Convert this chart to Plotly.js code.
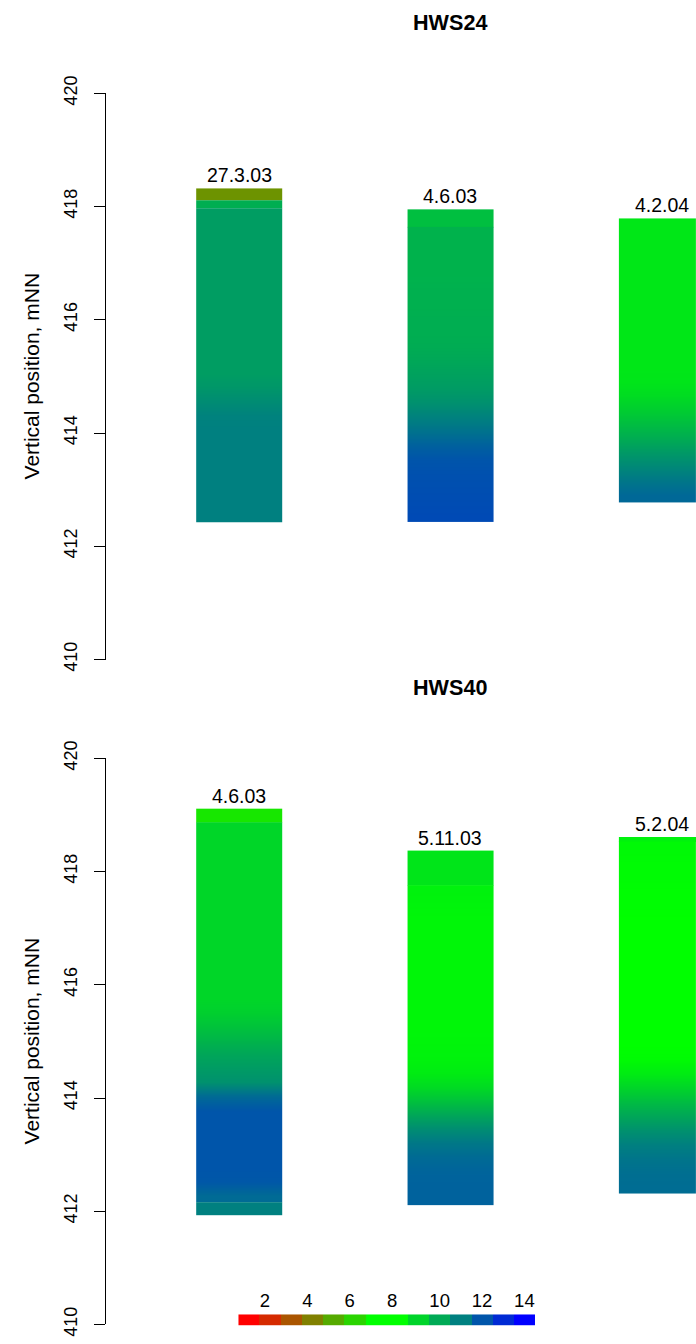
<!DOCTYPE html>
<html>
<head>
<meta charset="utf-8">
<script src="https://cdn.plot.ly/plotly-3.0.1.min.js"></script>
<style>
  html, body { margin: 0; padding: 0; background: #fff; overflow: hidden; }
  #chart { width: 696px; height: 1344px; }
</style>
</head>
<body>
<div id="chart"></div>
<script>
// Colour key: value classes 1..14, red -> green and green -> blue
const keyValues = [1, 2, 3, 4, 5, 6, 7, 8, 9, 10, 11, 12, 13, 14];
const keyColors = ['#FF0000', '#D52A00', '#AA5500', '#808000', '#55AA00', '#2AD400', '#00FF00',
                   '#00FF00', '#00D42A', '#00AA55', '#008080', '#0055AA', '#002AD4', '#0000FF'];
const keyLabels = [2, 4, 6, 8, 10, 12, 14];

// Each profile: layer boundaries in mNN (top down) and one entry per layer.
// A single number is a uniform layer, a list is the layer sampled in equal depth steps.

// HWS24
const hws24Dates = ['27.3.03', '4.6.03', '4.2.04'];
const hws24aBounds = [418.32, 418.11, 417.97, 412.43];
const hws24aValues = [4.45, 9.9,
  [10.3, 10.3, 10.3, 10.3, 10.3, 10.3, 10.3, 10.3, 10.3, 10.3, 10.3, 10.3,
   10.45, 10.7, 10.95, 11, 11, 11, 11, 11, 11, 11]];
const hws24bBounds = [417.95, 417.64, 412.43];
const hws24bValues = [9.5,
  [9.8, 9.8, 9.8, 9.8, 9.85, 9.85, 9.9, 9.9, 9.95, 10.05, 10.2, 10.35, 10.6,
   10.95, 11.3, 11.7, 12.0, 12.1, 12.15, 12.2, 12.25]];
const hws24cBounds = [417.79, 412.78];
const hws24cValues = [
  [8.55, 8.55, 8.55, 8.55, 8.55, 8.55, 8.55, 8.55, 8.55, 8.55, 8.55, 8.6, 8.8,
   9.15, 9.55, 9.95, 10.4, 10.8, 11.2, 11.55]];

// HWS40
const hws40Dates = ['4.6.03', '5.11.03', '5.2.04'];
const hws40aBounds = [419.11, 418.87, 412.16, 411.93];
const hws40aValues = [6.45,
  [8.95, 8.95, 8.95, 8.95, 8.95, 8.95, 8.95, 8.95, 8.95, 8.95, 8.95, 8.95, 8.95,
   9.1, 9.4, 9.75, 10.1, 10.35, 10.6, 11.5, 12.0, 12.0, 12.0, 12.0, 12.0, 11.95, 11.5],
  11.0];
const hws40bBounds = [418.37, 417.76, 412.10];
const hws40bValues = [8.6,
  [8.3, 8.25, 8.2, 8.2, 8.2, 8.2, 8.2, 8.2, 8.2, 8.2, 8.2, 8.25, 8.3, 8.45,
   8.85, 9.45, 10.1, 10.7, 11.2, 11.5, 11.65, 11.7, 11.7]];
const hws40cBounds = [418.61, 418.53, 412.31];
const hws40cValues = [8.3,
  [8.15, 8.1, 8.1, 8.05, 8.05, 8, 8, 8, 8, 8, 8, 8, 8, 8, 8.0, 8.1, 8.45,
   9.0, 9.6, 10.1, 10.6, 11.0, 11.25, 11.4, 11.45]];

const yTicks = [410, 412, 414, 416, 418, 420];

const FONT = 'Liberation Sans, Arial, Helvetica, sans-serif';
const BAR_W = 0.405;
const scale = keyColors.map((c, i) => [i / (keyColors.length - 1), c]);

function profileTraces(bounds, values, xc, xa, ya) {
  const out = [];
  values.forEach((v, k) => {
    const top = bounds[k], bot = bounds[k + 1];
    const layers = Array.isArray(v) ? v : [v];
    const n = layers.length;
    const step = (top - bot) / n;
    const yEdges = [];
    for (let i = 0; i <= n; i++) yEdges.push(bot + i * step);
    const z = layers.slice().reverse().map(val => [val, val]);
    out.push({
      type: 'heatmap', xaxis: xa, yaxis: ya,
      x: [xc - BAR_W / 2, xc, xc + BAR_W / 2], y: yEdges, z: z,
      zmin: keyValues[0], zmax: keyValues[keyValues.length - 1],
      colorscale: scale, showscale: false,
      zsmooth: n > 1 ? 'best' : false, hoverinfo: 'skip'
    });
  });
  return out;
}

const traces = [];
const annotations = [];

function addPanel(dates, profiles, xa, ya, title, titleY) {
  profiles.forEach((p, i) => {
    const xc = i + 1;
    traces.push(...profileTraces(p[0], p[1], xc, xa, ya));
    annotations.push({
      x: xc, y: p[0][0], xref: xa, yref: ya, text: dates[i], showarrow: false,
      yanchor: 'middle', xanchor: 'center', yshift: 13,
      font: { family: FONT, size: 19.5, color: '#000' }
    });
  });
  annotations.push({
    x: -0.127, y: 0.5, xref: 'paper', yref: ya + ' domain', text: 'Vertical position, mNN',
    textangle: -90, showarrow: false, xanchor: 'center', yanchor: 'middle',
    font: { family: FONT, size: 21, color: '#000' }
  });
  annotations.push({
    x: 0.583, y: titleY, xref: 'paper', yref: 'paper', text: '<b>' + title + '</b>',
    showarrow: false, xanchor: 'center', yanchor: 'middle',
    font: { family: FONT, size: 21.6, color: '#000' }
  });
}

addPanel(hws24Dates, [[hws24aBounds, hws24aValues], [hws24bBounds, hws24bValues], [hws24cBounds, hws24cValues]],
         'x', 'y', 'HWS24', 0.9830);
addPanel(hws40Dates, [[hws40aBounds, hws40aValues], [hws40bBounds, hws40bValues], [hws40cBounds, hws40cValues]],
         'x2', 'y2', 'HWS40', 0.4882);

// Colour key strip
traces.push({
  type: 'heatmap', xaxis: 'x3', yaxis: 'y3',
  x: keyValues, y: [0], z: [keyValues],
  zmin: keyValues[0], zmax: keyValues[keyValues.length - 1],
  colorscale: scale, showscale: false, zsmooth: false, hoverinfo: 'skip'
});

const xRange = [0.3707, 3.1623];
const yAxisBase = {
  range: [410, 420], tickvals: yTicks, ticks: 'outside', ticklen: 11, tickwidth: 1,
  tickcolor: '#000', showline: true, linewidth: 1, linecolor: '#000',
  showgrid: false, zeroline: false, tickangle: -90, ticklabelstandoff: 10,
  tickfont: { family: FONT, size: 18, color: '#000' }
};

const layout = {
  width: 696, height: 1344,
  margin: { l: 106, r: 0, t: 0, b: 0 },
  paper_bgcolor: '#fff', plot_bgcolor: 'rgba(0,0,0,0)',
  showlegend: false,
  font: { family: FONT, color: '#000' },
  xaxis: { domain: [0, 1], range: xRange, visible: false, anchor: 'y', fixedrange: true },
  yaxis: Object.assign({ domain: [0.50930, 0.93058], anchor: 'x' }, yAxisBase),
  xaxis2: { domain: [0, 1], range: xRange, visible: false, anchor: 'y2', fixedrange: true },
  yaxis2: Object.assign({ domain: [0.014509, 0.43579], anchor: 'x2' }, yAxisBase),
  xaxis3: {
    domain: [0.2242, 0.7271], range: [0.5, 14.5], anchor: 'y3', side: 'top',
    tickvals: keyLabels,
    ticktext: keyLabels.map(v => v < 10 ? v + '\u2007' : String(v)),
    ticks: '', showline: false, showgrid: false, zeroline: false, ticklabelstandoff: 3,
    tickfont: { family: FONT, size: 18.5, color: '#000' }
  },
  yaxis3: { domain: [0.013616, 0.022098], range: [-0.5, 0.5], visible: false, anchor: 'x3' },
  annotations: annotations
};

Plotly.newPlot('chart', traces, layout, { staticPlot: true, displayModeBar: false });
</script>
</body>
</html>
